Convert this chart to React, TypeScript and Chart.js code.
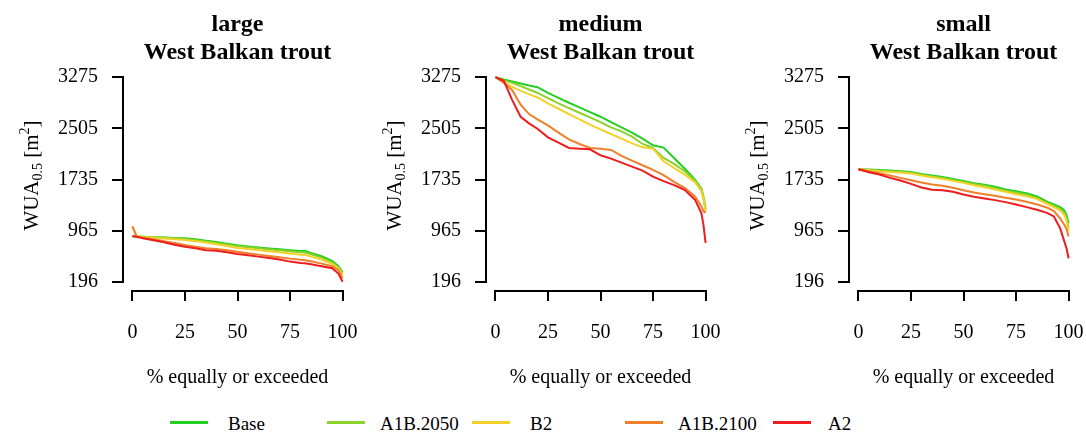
import React, { useEffect, useRef } from "react";
import { Chart, registerables } from "chart.js";

Chart.register(...registerables);

const SCENARIOS = ["Base", "A1B.2050", "B2", "A1B.2100", "A2"];
const COLORS = ["#22d022", "#8ad12a", "#f2d22a", "#ef7f2a", "#ee1c1c"];
const Y_TICKS = [196, 965, 1735, 2505, 3275];
const X_TICKS = [0, 25, 50, 75, 100];
const PANEL_TITLES = ["large", "medium", "small"];
const SPECIES = "West Balkan trout";
const X_TITLE = "% equally or exceeded";

// large
const LARGE_X = [0, 2, 5, 10, 15, 20, 25, 30, 35, 40, 45, 50, 55, 60, 65, 70, 75, 80, 82, 85, 90, 95, 98, 100];
const LARGE_BASE = [880, 878, 875, 868, 862, 856, 850, 835, 815, 795, 770, 745, 728, 712, 698, 685, 672, 660, 665, 630, 580, 510, 430, 340];
const LARGE_A1B2050 = [880, 878, 874, 866, 858, 850, 840, 822, 802, 782, 758, 735, 715, 700, 684, 670, 655, 640, 638, 610, 560, 490, 410, 320];
const LARGE_B2 = [1030, 880, 870, 858, 848, 836, 824, 806, 786, 762, 735, 705, 690, 672, 655, 640, 622, 605, 598, 575, 530, 465, 400, 300];
const LARGE_A1B2100 = [1030, 875, 860, 835, 808, 780, 750, 725, 700, 690, 670, 650, 625, 605, 585, 565, 545, 528, 522, 505, 470, 430, 370, 250];
const LARGE_A2 = [880, 875, 850, 820, 790, 755, 723, 700, 670, 665, 640, 613, 595, 575, 555, 532, 500, 480, 475, 460, 430, 400, 320, 196];

// medium
const MEDIUM_X = [0, 4, 8, 12, 16, 20, 25, 30, 35, 40, 45, 50, 55, 60, 65, 70, 75, 80, 85, 90, 95, 98, 99, 100];
const MEDIUM_BASE = [3275, 3240, 3210, 3180, 3150, 3125, 3040, 2965, 2890, 2820, 2750, 2680, 2600, 2520, 2440, 2350, 2250, 2215, 2060, 1900, 1735, 1590, 1450, 1280];
const MEDIUM_A1B2050 = [3275, 3230, 3190, 3140, 3090, 3040, 2960, 2880, 2810, 2740, 2670, 2600, 2520, 2460, 2380, 2270, 2210, 2060, 1970, 1860, 1720, 1600, 1480, 1320];
const MEDIUM_B2 = [3275, 3200, 3130, 3070, 3020, 2970, 2880, 2800, 2720, 2640, 2560, 2490, 2420, 2350, 2280, 2220, 2200, 2010, 1910, 1810, 1690, 1560, 1450, 1250];
const MEDIUM_A1B2100 = [3275, 3190, 3080, 2860, 2720, 2640, 2550, 2440, 2340, 2270, 2210, 2200, 2180, 2090, 2020, 1950, 1880, 1800, 1700, 1610, 1480, 1330, 1260, 1230];
const MEDIUM_A2 = [3275, 3220, 2930, 2680, 2580, 2500, 2370, 2290, 2210, 2200, 2190, 2100, 2050, 1990, 1930, 1870, 1780, 1710, 1650, 1580, 1430, 1230, 1050, 780];

// small
const SMALL_X = [0, 5, 10, 15, 20, 25, 30, 35, 40, 45, 50, 55, 60, 65, 70, 75, 80, 85, 90, 93, 96, 98, 99, 100];
const SMALL_BASE = [1890, 1885, 1878, 1870, 1860, 1850, 1820, 1795, 1772, 1745, 1715, 1680, 1655, 1625, 1585, 1560, 1530, 1480, 1400, 1360, 1320, 1270, 1200, 1080];
const SMALL_A1B2050 = [1890, 1880, 1870, 1860, 1850, 1838, 1808, 1782, 1760, 1730, 1700, 1665, 1640, 1605, 1565, 1535, 1505, 1455, 1380, 1340, 1290, 1230, 1150, 1010];
const SMALL_B2 = [1890, 1875, 1860, 1850, 1840, 1825, 1795, 1770, 1745, 1715, 1685, 1650, 1620, 1585, 1550, 1515, 1485, 1440, 1365, 1320, 1270, 1200, 1120, 960];
const SMALL_A1B2100 = [1890, 1860, 1830, 1795, 1760, 1725, 1690, 1660, 1640, 1610, 1575, 1540, 1515, 1490, 1460, 1435, 1400, 1360, 1310, 1260, 1150, 1050, 990, 880];
const SMALL_A2 = [1890, 1845, 1810, 1760, 1720, 1670, 1615, 1580, 1575, 1550, 1510, 1476, 1450, 1425, 1395, 1360, 1320, 1280, 1230, 1180, 1000, 800, 700, 548];

const PANELS = [
  { x: LARGE_X, series: [LARGE_BASE, LARGE_A1B2050, LARGE_B2, LARGE_A1B2100, LARGE_A2] },
  { x: MEDIUM_X, series: [MEDIUM_BASE, MEDIUM_A1B2050, MEDIUM_B2, MEDIUM_A1B2100, MEDIUM_A2] },
  { x: SMALL_X, series: [SMALL_BASE, SMALL_A1B2050, SMALL_B2, SMALL_A1B2100, SMALL_A2] },
];

const SERIF = '"Liberation Serif", "DejaVu Serif", serif';
const CANVAS_W = 362;
const CANVAS_H = 395;
const PANEL_LEFTS = [0, 363, 726];
const LEGEND_LINE_X = [170, 327, 472, 625, 773];
const LEGEND_TEXT_X = [228, 380, 530, 678, 828];

const Y_SPAN = Y_TICKS[Y_TICKS.length - 1] - Y_TICKS[0];

function makeDecorPlugin(title: string) {
  return {
    id: "decor_" + title,
    afterDraw(chart: any) {
      const ctx = chart.ctx as CanvasRenderingContext2D;
      const xs = chart.scales.x;
      const ys = chart.scales.y;
      const ca = chart.chartArea;
      ctx.save();
      ctx.strokeStyle = "#000";
      ctx.lineWidth = 2;
      ctx.lineCap = "butt";
      const yTop = ys.getPixelForValue(Y_TICKS[Y_TICKS.length - 1]);
      const yBot = ys.getPixelForValue(Y_TICKS[0]);
      ctx.beginPath();
      ctx.moveTo(ca.left - 1, yTop - 1);
      ctx.lineTo(ca.left - 1, yBot + 1);
      ctx.stroke();
      const xL = xs.getPixelForValue(X_TICKS[0]);
      const xR = xs.getPixelForValue(X_TICKS[X_TICKS.length - 1]);
      ctx.beginPath();
      ctx.moveTo(xL - 1, ca.bottom + 1);
      ctx.lineTo(xR + 1, ca.bottom + 1);
      ctx.stroke();

      ctx.fillStyle = "#000";
      const cx = (ca.left + ca.right) / 2;
      ctx.font = "bold 24px " + SERIF;
      ctx.textAlign = "center";
      ctx.textBaseline = "middle";
      ctx.fillText(title, cx, 25);
      ctx.fillText(SPECIES, cx, 53);
      ctx.font = "20px " + SERIF;
      ctx.fillText(X_TITLE, cx, 378);

      const cy = (yTop + yBot) / 2 - 4;
      ctx.translate(38, cy);
      ctx.rotate(-Math.PI / 2);
      ctx.textAlign = "left";
      ctx.textBaseline = "alphabetic";
      const big = "21px " + SERIF;
      const small = "14px " + SERIF;
      const parts = [
        { t: "WUA", f: big, dy: 0 },
        { t: "0.5", f: small, dy: 4 },
        { t: " [m", f: big, dy: 0 },
        { t: "2", f: small, dy: -9 },
        { t: "]", f: big, dy: 0 },
      ];
      let total = 0;
      const widths = parts.map((p) => {
        ctx.font = p.f;
        const w = ctx.measureText(p.t).width;
        total += w;
        return w;
      });
      let px = -total / 2;
      parts.forEach((p, i) => {
        ctx.font = p.f;
        ctx.fillText(p.t, px, p.dy);
        px += widths[i];
      });
      ctx.restore();
    },
  };
}

function Panel({ index }: { index: number }) {
  const ref = useRef<HTMLCanvasElement | null>(null);
  useEffect(() => {
    if (!ref.current) return;
    const panel = PANELS[index];
    const datasets = SCENARIOS.map((name, si) => ({
      label: name,
      data: panel.x.map((xv, i) => ({ x: xv, y: panel.series[si][i] })),
      borderColor: COLORS[si],
      backgroundColor: COLORS[si],
      borderWidth: 2,
      pointRadius: 0,
      tension: 0,
      fill: false,
      order: SCENARIOS.length - si,
    }));
    const chart = new Chart(ref.current, {
      type: "line",
      data: { datasets },
      options: {
        animation: false,
        responsive: false,
        maintainAspectRatio: false,
        devicePixelRatio: 1,
        layout: { padding: { top: 69, right: 11, left: 0, bottom: 0 } },
        plugins: {
          legend: { display: false },
          title: { display: false },
          tooltip: { enabled: false },
        },
        scales: {
          x: {
            type: "linear",
            min: X_TICKS[0] - 0.04 * 100,
            max: X_TICKS[X_TICKS.length - 1] + 0.04 * 100,
            afterBuildTicks: (s: any) => {
              s.ticks = X_TICKS.map((v) => ({ value: v }));
            },
            afterFit: (s: any) => {
              s.height = CANVAS_H - 290;
              s.paddingLeft = 0;
              s.paddingRight = 0;
            },
            ticks: {
              callback: (v: any) => String(v),
              font: { family: SERIF, size: 20 },
              color: "#000",
              padding: 20,
              maxRotation: 0,
              autoSkip: false,
            },
            grid: { drawOnChartArea: false, drawTicks: true, tickLength: 11, color: "#000", lineWidth: 2 },
            border: { display: false },
          },
          y: {
            type: "linear",
            min: Y_TICKS[0] - 0.04 * Y_SPAN,
            max: Y_TICKS[Y_TICKS.length - 1] + 0.04 * Y_SPAN,
            afterBuildTicks: (s: any) => {
              s.ticks = Y_TICKS.map((v) => ({ value: v }));
            },
            afterFit: (s: any) => {
              s.width = 124;
              s.paddingTop = 0;
              s.paddingBottom = 0;
            },
            ticks: {
              callback: (v: any) => String(v),
              font: { family: SERIF, size: 20 },
              color: "#000",
              padding: 14,
              autoSkip: false,
            },
            grid: { drawOnChartArea: false, drawTicks: true, tickLength: 12, color: "#000", lineWidth: 2 },
            border: { display: false },
          },
        },
      } as any,
      plugins: [makeDecorPlugin(PANEL_TITLES[index])],
    });
    return () => chart.destroy();
  }, [index]);
  return (
    <canvas
      ref={ref}
      width={CANVAS_W}
      height={CANVAS_H}
      style={{ position: "absolute", left: PANEL_LEFTS[index], top: 0, width: CANVAS_W, height: CANVAS_H }}
    />
  );
}

export default function App() {
  return (
    <div
      style={{
        position: "fixed",
        left: 0,
        top: 0,
        width: 1086,
        height: 435,
        overflow: "hidden",
        background: "#fff",
      }}
    >
      {PANELS.map((_, i) => (
        <Panel key={i} index={i} />
      ))}
      {SCENARIOS.map((name, i) => (
        <React.Fragment key={name}>
          <div
            style={{
              position: "absolute",
              left: LEGEND_LINE_X[i],
              top: 421,
              width: 38,
              height: 3,
              background: COLORS[i],
            }}
          />
          <div
            style={{
              position: "absolute",
              left: LEGEND_TEXT_X[i],
              top: 423,
              transform: "translateY(-50%)",
              fontFamily: SERIF,
              fontSize: 19,
              lineHeight: 1,
              color: "#000",
              whiteSpace: "nowrap",
            }}
          >
            {name}
          </div>
        </React.Fragment>
      ))}
    </div>
  );
}
